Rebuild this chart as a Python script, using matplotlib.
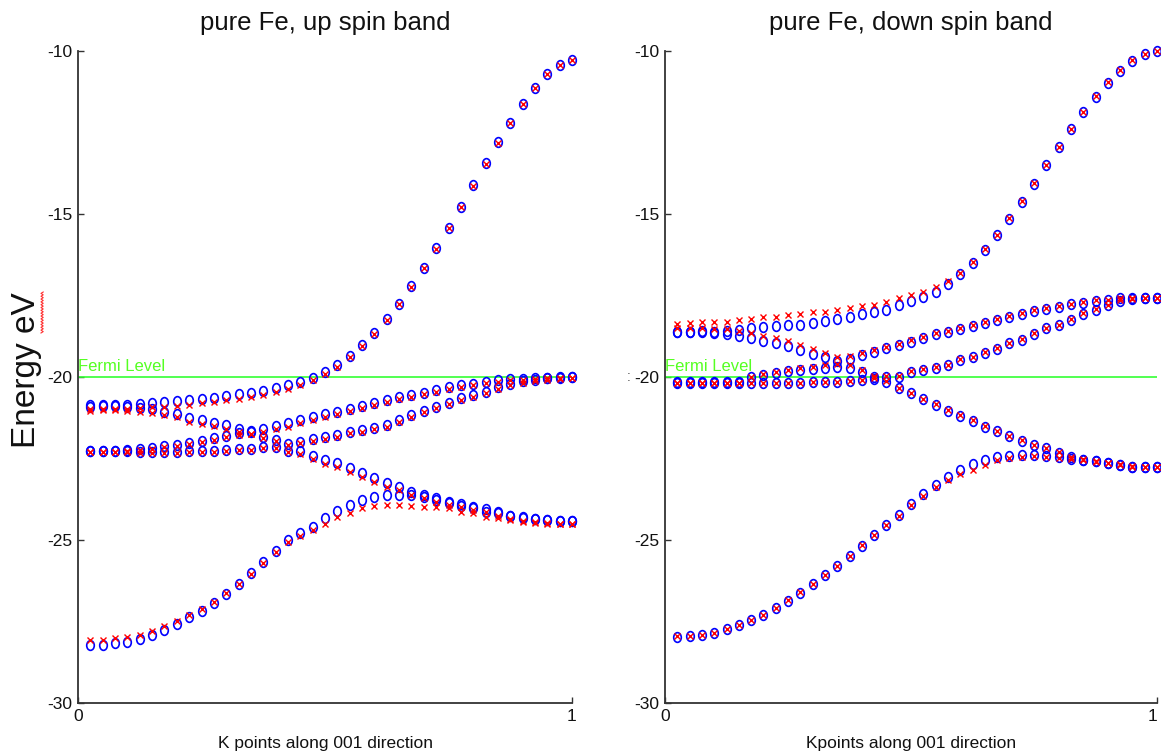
import numpy as np
import matplotlib
matplotlib.use('Agg')
import matplotlib.pyplot as plt
from matplotlib.path import Path
from matplotlib.transforms import Affine2D
from matplotlib.lines import Line2D

# k grid along 001 (40 points, Gamma excluded)
kpts = np.linspace(0.025, 1.0, 40)

# ---- up spin : blue = circles, red = crosses ----
up_blue = [
    [-20.86,-20.86,-20.86,-20.86,-20.82,-20.80,-20.78,-20.75,-20.72,-20.67,-20.63,-20.58,-20.53,-20.48,-20.43,-20.35,-20.25,-20.15,-20.02,-19.85,
     -19.62,-19.35,-19.02,-18.65,-18.22,-17.75,-17.22,-16.65,-16.05,-15.42,-14.78,-14.12,-13.45,-12.80,-12.20,-11.62,-11.12,-10.70,-10.42,-10.27],
    [-20.91,-20.90,-20.90,-20.92,-20.96,-20.98,-21.06,-21.13,-21.27,-21.33,-21.40,-21.47,-21.58,-21.67,-21.60,-21.50,-21.42,-21.33,-21.24,-21.15,
     -21.06,-20.98,-20.89,-20.79,-20.71,-20.62,-20.55,-20.48,-20.40,-20.32,-20.25,-20.20,-20.14,-20.10,-20.07,-20.05,-20.03,-20.02,-20.01,-20.00],
    [-22.26,-22.26,-22.26,-22.24,-22.20,-22.17,-22.12,-22.09,-22.01,-21.95,-21.88,-21.81,-21.73,-21.70,-21.83,-21.93,-22.04,-21.98,-21.91,-21.85,
     -21.78,-21.68,-21.63,-21.55,-21.47,-21.32,-21.17,-21.03,-20.91,-20.79,-20.65,-20.55,-20.45,-20.32,-20.21,-20.13,-20.08,-20.04,-20.02,-20.00],
    [-22.27,-22.26,-22.26,-22.28,-22.30,-22.31,-22.30,-22.30,-22.27,-22.26,-22.26,-22.24,-22.22,-22.20,-22.14,-22.14,-22.26,-22.27,-22.41,-22.55,
     -22.65,-22.80,-22.96,-23.11,-23.24,-23.36,-23.52,-23.62,-23.72,-23.82,-23.90,-23.98,-24.05,-24.15,-24.25,-24.31,-24.37,-24.40,-24.42,-24.42],
    [-28.22,-28.22,-28.17,-28.12,-28.05,-27.91,-27.76,-27.59,-27.37,-27.18,-26.92,-26.65,-26.35,-26.02,-25.68,-25.33,-25.00,-24.78,-24.59,-24.34,
     -24.11,-23.93,-23.77,-23.67,-23.62,-23.62,-23.62,-23.67,-23.77,-23.88,-23.96,-24.03,-24.13,-24.18,-24.26,-24.30,-24.37,-24.39,-24.41,-24.41],
]
up_red = [
    [-20.99,-20.99,-20.99,-20.99,-20.95,-20.93,-20.91,-20.88,-20.85,-20.80,-20.76,-20.71,-20.66,-20.60,-20.55,-20.46,-20.36,-20.26,-20.10,-19.92,
     -19.68,-19.40,-19.06,-18.68,-18.25,-17.77,-17.24,-16.66,-16.06,-15.43,-14.79,-14.13,-13.46,-12.81,-12.21,-11.63,-11.13,-10.71,-10.43,-10.28],
    [-21.03,-21.02,-21.02,-21.04,-21.08,-21.10,-21.17,-21.24,-21.38,-21.44,-21.50,-21.58,-21.68,-21.76,-21.70,-21.60,-21.52,-21.42,-21.32,-21.22,
     -21.12,-21.04,-20.95,-20.85,-20.77,-20.68,-20.60,-20.53,-20.45,-20.37,-20.30,-20.25,-20.18,-20.14,-20.10,-20.08,-20.06,-20.04,-20.03,-20.02],
    [-22.30,-22.30,-22.30,-22.28,-22.24,-22.21,-22.16,-22.12,-22.05,-21.99,-21.92,-21.85,-21.77,-21.74,-21.87,-21.97,-22.08,-22.02,-21.96,-21.90,
     -21.83,-21.73,-21.68,-21.60,-21.52,-21.37,-21.22,-21.08,-20.96,-20.84,-20.70,-20.60,-20.50,-20.37,-20.26,-20.18,-20.12,-20.08,-20.05,-20.03],
    [-22.30,-22.29,-22.29,-22.31,-22.33,-22.34,-22.33,-22.33,-22.30,-22.29,-22.29,-22.27,-22.25,-22.23,-22.18,-22.18,-22.30,-22.36,-22.52,-22.67,
     -22.77,-22.92,-23.08,-23.23,-23.36,-23.48,-23.63,-23.72,-23.82,-23.92,-24.00,-24.08,-24.15,-24.25,-24.35,-24.41,-24.46,-24.49,-24.51,-24.51],
    [-28.07,-28.07,-28.02,-27.97,-27.90,-27.78,-27.63,-27.47,-27.30,-27.12,-26.90,-26.64,-26.35,-26.03,-25.70,-25.37,-25.06,-24.88,-24.69,-24.51,
     -24.30,-24.16,-24.03,-23.96,-23.93,-23.94,-23.96,-23.98,-23.98,-24.03,-24.13,-24.18,-24.28,-24.34,-24.39,-24.44,-24.49,-24.52,-24.52,-24.51],
]

# ---- down spin ----
dn_blue = [
    [-18.61,-18.61,-18.58,-18.61,-18.58,-18.56,-18.49,-18.46,-18.44,-18.41,-18.39,-18.33,-18.28,-18.21,-18.15,-18.08,-18.00,-17.93,-17.80,-17.66,
     -17.54,-17.39,-17.15,-16.85,-16.50,-16.10,-15.65,-15.15,-14.62,-14.07,-13.50,-12.95,-12.40,-11.88,-11.40,-10.97,-10.60,-10.30,-10.10,-10.00],
    [-18.63,-18.63,-18.63,-18.65,-18.67,-18.75,-18.79,-18.89,-18.95,-19.05,-19.18,-19.30,-19.40,-19.50,-19.45,-19.33,-19.23,-19.12,-19.02,-18.92,
     -18.79,-18.69,-18.61,-18.54,-18.44,-18.34,-18.24,-18.15,-18.07,-17.97,-17.90,-17.85,-17.77,-17.72,-17.66,-17.64,-17.59,-17.59,-17.59,-17.59],
    [-20.15,-20.15,-20.15,-20.15,-20.15,-20.15,-20.00,-19.94,-19.87,-19.81,-19.77,-19.74,-19.71,-19.69,-19.71,-19.84,-20.01,-20.15,-20.35,-20.50,
     -20.68,-20.86,-21.03,-21.19,-21.34,-21.52,-21.67,-21.81,-21.95,-22.09,-22.19,-22.32,-22.46,-22.54,-22.59,-22.64,-22.69,-22.75,-22.77,-22.77],
    [-20.17,-20.17,-20.17,-20.17,-20.17,-20.19,-20.19,-20.17,-20.17,-20.17,-20.17,-20.15,-20.15,-20.15,-20.12,-20.10,-20.05,-20.00,-19.99,-19.84,
     -19.77,-19.71,-19.64,-19.48,-19.40,-19.26,-19.13,-18.97,-18.85,-18.67,-18.51,-18.41,-18.24,-18.07,-17.93,-17.80,-17.66,-17.62,-17.59,-17.59],
    [-27.97,-27.96,-27.91,-27.86,-27.74,-27.61,-27.45,-27.30,-27.10,-26.86,-26.62,-26.35,-26.07,-25.80,-25.49,-25.17,-24.85,-24.54,-24.23,-23.90,
     -23.60,-23.31,-23.08,-22.85,-22.67,-22.55,-22.46,-22.42,-22.39,-22.39,-22.42,-22.46,-22.52,-22.54,-22.59,-22.64,-22.69,-22.75,-22.77,-22.77],
]
dn_red = [
    [-18.36,-18.33,-18.31,-18.31,-18.31,-18.26,-18.21,-18.17,-18.15,-18.10,-18.08,-18.02,-18.00,-17.93,-17.87,-17.83,-17.80,-17.69,-17.59,-17.49,
     -17.39,-17.23,-17.05,-16.80,-16.46,-16.07,-15.63,-15.13,-14.60,-14.05,-13.49,-12.94,-12.39,-11.87,-11.39,-10.96,-10.59,-10.29,-10.09,-10.00],
    [-18.50,-18.50,-18.50,-18.52,-18.54,-18.60,-18.65,-18.73,-18.80,-18.90,-19.02,-19.15,-19.27,-19.38,-19.35,-19.27,-19.18,-19.08,-18.98,-18.88,
     -18.76,-18.66,-18.58,-18.51,-18.42,-18.32,-18.22,-18.13,-18.05,-17.96,-17.88,-17.83,-17.76,-17.71,-17.65,-17.63,-17.59,-17.59,-17.58,-17.58],
    [-20.17,-20.17,-20.17,-20.17,-20.17,-20.17,-20.00,-19.92,-19.84,-19.77,-19.72,-19.68,-19.64,-19.60,-19.62,-19.80,-19.98,-20.12,-20.33,-20.48,
     -20.66,-20.84,-21.01,-21.18,-21.33,-21.51,-21.66,-21.80,-21.94,-22.08,-22.18,-22.31,-22.45,-22.53,-22.58,-22.63,-22.68,-22.74,-22.76,-22.76],
    [-20.17,-20.17,-20.17,-20.17,-20.17,-20.19,-20.19,-20.17,-20.17,-20.17,-20.17,-20.15,-20.15,-20.15,-20.12,-20.08,-20.03,-19.98,-19.96,-19.82,
     -19.75,-19.69,-19.62,-19.46,-19.38,-19.24,-19.11,-18.95,-18.83,-18.65,-18.49,-18.39,-18.22,-18.05,-17.91,-17.78,-17.65,-17.61,-17.58,-17.58],
    [-27.95,-27.94,-27.90,-27.84,-27.73,-27.60,-27.44,-27.29,-27.09,-26.85,-26.61,-26.34,-26.06,-25.79,-25.48,-25.16,-24.84,-24.55,-24.26,-23.93,
     -23.64,-23.36,-23.15,-22.97,-22.85,-22.69,-22.56,-22.49,-22.44,-22.43,-22.46,-22.49,-22.53,-22.55,-22.60,-22.65,-22.70,-22.75,-22.77,-22.77],
]

fermi = -20.0
titles = ['pure Fe, up spin band', 'pure Fe, down spin band']
xlabels = ['K points along 001 direction', 'Kpoints along 001 direction']

plt.rcParams['font.family'] = ['Liberation Sans', 'DejaVu Sans']

# slightly tall open circle, like the stretched matlab 'o'
oval = Path.unit_circle().transformed(Affine2D().scale(0.78, 1.0))

W, H = 1161, 752
fig = plt.figure(figsize=(W / 100, H / 100), dpi=100)
boxes = [[78 / W, 1 - 703 / H, 494 / W, 652 / H],
         [665 / W, 1 - 703 / H, 492 / W, 652 / H]]

for n, (box, blue, red, ttl, xl) in enumerate(zip(boxes, [up_blue, dn_blue], [up_red, dn_red], titles, xlabels)):
    ax = fig.add_axes(box)
    for band in blue:
        ax.plot(kpts, band, linestyle='none', marker=oval, markersize=7,
                markerfacecolor='none', markeredgecolor='#0000ff', markeredgewidth=1.2,
                clip_on=False, zorder=3)
    for band in red:
        ax.plot(kpts, band, linestyle='none', marker='x', markersize=4.2,
                color='#ff0000', markeredgewidth=1.0, clip_on=False, zorder=4)
    ax.plot([0, 1], [fermi, fermi], color='#33ff33', linewidth=1.2, zorder=2)
    ax.text(0.0, fermi + 0.08, 'Fermi Level', color='#55ff22', fontsize=12,
            ha='left', va='bottom')

    ax.set_xlim(0, 1)
    ax.set_ylim(-30, -10)
    ax.set_xticks([0, 1])
    ax.set_xticklabels(['0', '1'])
    ax.set_yticks([-30, -25, -20, -15, -10])
    ax.set_yticklabels(['-30', '-25', '-20', '-15', '-10'])
    ax.tick_params(direction='in', length=4, width=1, colors='#333333',
                   labelcolor='#111111', labelsize=12.5, pad=4)
    if n == 1:
        # last x label kept inside the figure edge
        ax.get_xticklabels()[-1].set_horizontalalignment('right')
    for s in ['top', 'right']:
        ax.spines[s].set_visible(False)
    for s in ['left', 'bottom']:
        ax.spines[s].set_color('#333333')
        ax.spines[s].set_linewidth(1.3)
    ax.set_title(ttl, fontsize=18.5, color='#111111', pad=15)
    ax.set_xlabel(xl, fontsize=12.5, color='#111111', labelpad=9)

fig.text(27 / W, 1 - 370 / H, 'Energy eV', rotation=90, ha='center', va='center',
         fontsize=24, color='#111111')

# spell-check squiggle under "eV"
yy = np.linspace(1 - 333 / H, 1 - 292 / H, 30)
xx = 41 / W + np.where(np.arange(30) % 2 == 0, 0.0, 2.2 / W)
fig.add_artist(Line2D(xx, yy, color='#ff3030', linewidth=0.8))

fig.text(629 / W, 1 - 377 / H, ':', fontsize=10, color='#555555', ha='center', va='center')

fig.savefig('out.png', dpi=100)
